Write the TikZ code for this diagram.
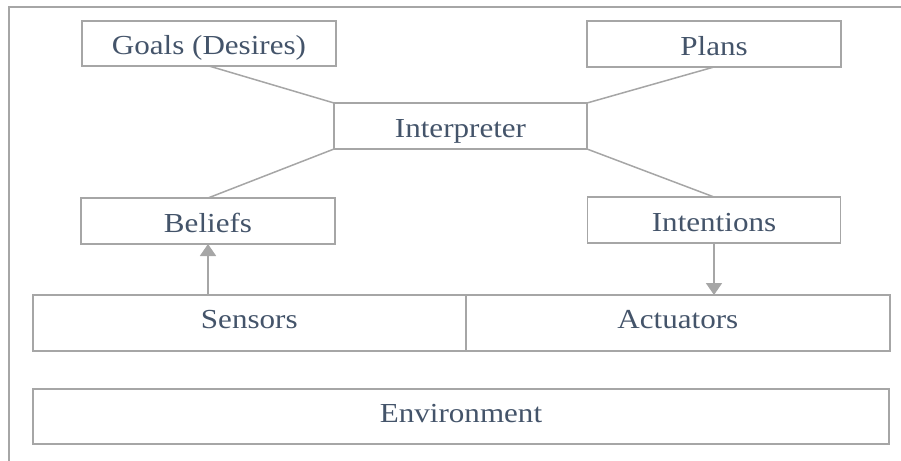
\documentclass[tikz,border=0pt]{standalone}
\usepackage{fontspec}
\setmainfont[FakeStretch=1.13]{Liberation Serif}
\usetikzlibrary{arrows.meta}
\definecolor{linegray}{HTML}{A6A6A6}
\definecolor{textslate}{HTML}{44546A}
\begin{document}
\begin{tikzpicture}[x=1pt,y=-1pt,
  box/.style={draw=linegray, line width=1.8pt, fill=white, rectangle,
    inner sep=0pt, outer sep=0pt, text=textslate, text depth=0pt,
    font=\fontsize{27.5}{32}\selectfont},
  smallbox/.style={box, minimum width=254pt, minimum height=46pt, text height=22.2pt},
  widebox/.style={box, minimum height=56pt, text height=11.2pt},
  link/.style={draw=linegray, line width=1.5pt},
  feed/.style={draw=linegray, line width=1.8pt,
    -{Triangle[width=16pt,length=12pt]}}]
\useasboundingbox (0,0) rectangle (901,460);

% outer frame (top and left edges)
\coordinate (ftl) at (9,7);
\coordinate (ftr) at (901,7);
\coordinate (fbl) at (9,461);
\draw[linegray, line width=1.8pt] (ftr) -- (ftl) -- (fbl);

% reasoning components
\node[smallbox, minimum height=45pt] (goals) at (209,43.5) {Goals (Desires)};
\node[smallbox] (plans) at (714,44) {Plans};
\node[smallbox, minimum width=253pt] (interp) at (460.5,126) {Interpreter};
\node[smallbox] (beliefs) at (208,221) {Beliefs};
\node[smallbox, minimum width=253pt] (intentions) at (714,220) {Intentions};

% interface and environment
\node[widebox, minimum width=432.7pt] (sensors) at (249.3,323) {Sensors};
\node[widebox, minimum width=424.3pt] (actuators) at (677.8,323) {Actuators};
\node[widebox, minimum width=856pt, minimum height=55pt] (env) at (461,416.5) {Environment};

% links to the interpreter
\draw[link] (goals.south) -- (interp.north west);
\draw[link] (plans.south) -- (interp.north east);
\draw[link] (beliefs.north) -- (interp.south west);
\draw[link] (intentions.north) -- (interp.south east);

% perception and action
\draw[feed] (sensors.north -| beliefs.south) -- (beliefs.south);
\draw[feed] (intentions.south) -- (actuators.north -| intentions.south);
\end{tikzpicture}
\end{document}
